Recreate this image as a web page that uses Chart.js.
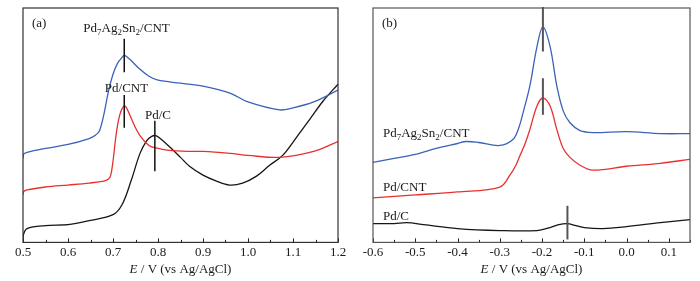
<!DOCTYPE html>
<html>
<head>
<meta charset="utf-8">
<script src="https://cdn.jsdelivr.net/npm/chart.js@4.4.0/dist/chart.umd.min.js"></script>
<style>
html, body { margin: 0; padding: 0; background: #fff; }
#wrap { position: relative; width: 700px; height: 281px; }
.box { position: absolute; top: 0; width: 350px; height: 281px; }
</style>
</head>
<body>
<div id="wrap">
  <div class="box" style="left:0"><canvas id="grafA"></canvas></div>
  <div class="box" style="left:350px"><canvas id="grafB"></canvas></div>
</div>
<script>
//Datos panel (a)
const xPdAgSnA = [0.5,0.501,0.509,0.55,0.6,0.647,0.66,0.67,0.68,0.69,0.70,0.71,0.72,0.725,0.73,0.74,0.76,0.78,0.80,0.85,0.9,0.96,1.0,1.07,1.1,1.146,1.2];
const yPdAgSnA = [85,89,91,95,99,105,108,113,130,153,170,181,187,189,188,184,175,168,164,161,158,151,142,134,136,142,154];

const xPdCntA = [0.5,0.501,0.509,0.55,0.6,0.647,0.68,0.69,0.695,0.70,0.705,0.71,0.715,0.72,0.725,0.73,0.74,0.75,0.76,0.78,0.80,0.825,0.87,0.9,0.96,1.0,1.07,1.146,1.2];
const yPdCntA = [48,51,53,56,58,60,62,64,68,82,102,118,129,135,138,136,126,116,108,98,95,93,92,92,90,88,86,92,102];

const xPdCA = [0.5,0.501,0.509,0.55,0.6,0.647,0.7,0.72,0.74,0.76,0.775,0.785,0.795,0.805,0.825,0.85,0.87,0.9,0.93,0.959,0.988,1.019,1.048,1.077,1.109,1.138,1.167,1.2];
const yPdCA = [0,8,14,17,18,22,28,38,62,90,103,107,108,105,97,86,77,68,62,58,60,67,78,88,107,125,143,160];

//Datos panel (b)
const xPdAgSnB = [-0.6,-0.55,-0.5,-0.45,-0.4,-0.38,-0.35,-0.3,-0.269,-0.255,-0.245,-0.229,-0.212,-0.198,-0.181,-0.165,-0.15,-0.134,-0.11,-0.08,0.0,0.08,0.15];
const yPdAgSnB = [81,85,89,95,100,102,101,98,104,116,131,158,198,218,198,158,133,121,113,111,112,110,110];

const xPdCntB = [-0.6,-0.5,-0.4,-0.3,-0.276,-0.262,-0.252,-0.24,-0.229,-0.212,-0.198,-0.181,-0.165,-0.15,-0.134,-0.11,-0.08,0.0,0.08,0.15];
const yPdCntB = [45,48,51,56,68,78,88,100,114,138,146,138,114,95,86,78,73,77,80,84];

const xPdCB = [-0.6,-0.55,-0.52,-0.48,-0.4,-0.3,-0.212,-0.181,-0.16,-0.141,-0.12,-0.1,-0.056,0.0,0.08,0.15];
const yPdCB = [19,19,20,18,14,12,12,15,18,19,17,15,14,16,20,23];

//Marcas de pico: [E, y inicio, y fin]
const marcasA = [[0.725,172,206],[0.725,116,149],[0.793,72,123]];
const marcasB = [[-0.198,193,238],[-0.198,129,166],[-0.14,3,37]];

const nombreAgSn = [['Pd'],['7',1],['Ag'],['2',1],['Sn'],['2',1],['/CNT']];
const nombreCnt = [['Pd/CNT']];
const nombreC = [['Pd/C']];

const tituloX = ['E', ' / V (vs Ag/AgCl)'];

const serif = '"Liberation Serif", "DejaVu Serif", serif';
const azul = '#3b62b8', rojo = '#e8302e', negro = '#161616';

function puntos(xs, ys) {
  return xs.map((x, i) => ({ x: x, y: ys[i] }));
}

function serie(xs, ys, color) {
  return {
    data: puntos(xs, ys),
    borderColor: color,
    borderWidth: 1.3,
    pointRadius: 0,
    fill: false,
    tension: 0.35
  };
}

function textoRico(ctx, partes, x, y, align) {
  const fNormal = '13px ' + serif, fSub = '9px ' + serif;
  let ancho = 0;
  partes.forEach(p => { ctx.font = p[1] ? fSub : fNormal; ancho += ctx.measureText(p[0]).width; });
  let cx = align === 'center' ? x - ancho / 2 : x;
  ctx.textAlign = 'left';
  ctx.textBaseline = 'alphabetic';
  partes.forEach(p => {
    ctx.font = p[1] ? fSub : fNormal;
    ctx.fillText(p[0], cx, p[1] ? y + 3 : y);
    cx += ctx.measureText(p[0]).width;
  });
}

const decorado = {
  id: 'decorado',
  afterDraw(chart, args, opts) {
    const ctx = chart.ctx, a = chart.chartArea;
    const sx = chart.scales.x, sy = chart.scales.y;
    ctx.save();
    //ticks hacia dentro
    ctx.strokeStyle = '#222';
    ctx.lineWidth = 1;
    sx.ticks.forEach(t => {
      const px = Math.round(sx.getPixelForValue(t.value)) + 0.5;
      const mayor = Math.abs(Math.round(t.value * 100)) % 10 === 0;
      ctx.beginPath();
      ctx.moveTo(px, a.bottom);
      ctx.lineTo(px, a.bottom - (mayor ? 4 : 2.5));
      ctx.stroke();
    });
    //marco
    ctx.strokeStyle = opts.marco;
    ctx.lineWidth = 1.2;
    ctx.strokeRect(a.left, a.top, a.right - a.left, a.bottom - a.top);
    //marcas de pico
    ctx.strokeStyle = opts.colorMarca;
    ctx.lineWidth = opts.anchoMarca;
    opts.marcas.forEach(m => {
      const px = sx.getPixelForValue(m[0]);
      ctx.beginPath();
      ctx.moveTo(px, sy.getPixelForValue(m[1]));
      ctx.lineTo(px, sy.getPixelForValue(m[2]));
      ctx.stroke();
    });
    //etiquetas
    ctx.fillStyle = '#1a1a1a';
    opts.etiquetas.forEach(e => {
      const px = e.enX ? sx.getPixelForValue(e.enX) : a.left + e.dx;
      textoRico(ctx, e.texto, px, sy.getPixelForValue(e.y), e.enX ? 'center' : 'left');
    });
    //titulo eje x
    ctx.font = 'italic 13px ' + serif;
    const w1 = ctx.measureText(tituloX[0]).width;
    ctx.font = '13px ' + serif;
    const w2 = ctx.measureText(tituloX[1]).width;
    let tx = (a.left + a.right) / 2 - (w1 + w2) / 2;
    ctx.textAlign = 'left';
    ctx.textBaseline = 'alphabetic';
    ctx.font = 'italic 13px ' + serif;
    ctx.fillText(tituloX[0], tx, 273);
    ctx.font = '13px ' + serif;
    ctx.fillText(tituloX[1], tx + w1, 273);
    ctx.restore();
  }
};

function opciones(min, max, padDer, deco) {
  return {
    responsive: true,
    maintainAspectRatio: false,
    animation: false,
    layout: { padding: { left: 23, right: padDer, top: 8, bottom: 19 } },
    plugins: { legend: { display: false }, tooltip: { enabled: false }, decorado: deco },
    scales: {
      x: {
        type: 'linear',
        min: min,
        max: max,
        grid: { display: false, drawTicks: false },
        border: { display: false },
        ticks: {
          stepSize: 0.05,
          autoSkip: false,
          maxRotation: 0,
          padding: 2,
          color: '#1a1a1a',
          font: { family: serif, size: 13 },
          callback: v => Math.abs(Math.round(v * 100)) % 10 === 0 ? v.toFixed(1) : ''
        }
      },
      y: { display: false, min: 0, max: 237 }
    }
  };
}

//GRAFICA (a)
const grafA = new Chart(document.getElementById('grafA'), {
  type: 'line',
  data: { datasets: [serie(xPdAgSnA, yPdAgSnA, azul), serie(xPdCntA, yPdCntA, rojo), serie(xPdCA, yPdCA, negro)] },
  options: opciones(0.5, 1.2, 12, {
    marco: '#333', colorMarca: '#111', anchoMarca: 1.5, marcas: marcasA,
    etiquetas: [
      { texto: [['(a)']], dx: 9, y: 218 },
      { texto: nombreAgSn, enX: 0.73, y: 213 },
      { texto: nombreCnt, enX: 0.73, y: 152 },
      { texto: nombreC, enX: 0.8, y: 125 }
    ]
  }),
  plugins: [decorado]
});

//GRAFICA (b)
const grafB = new Chart(document.getElementById('grafB'), {
  type: 'line',
  data: { datasets: [serie(xPdAgSnB, yPdAgSnB, azul), serie(xPdCntB, yPdCntB, rojo), serie(xPdCB, yPdCB, negro)] },
  options: opciones(-0.6, 0.15, 10, {
    marco: '#555', colorMarca: '#555', anchoMarca: 2, marcas: marcasB,
    etiquetas: [
      { texto: [['(b)']], dx: 9, y: 218 },
      { texto: nombreAgSn, dx: 10, y: 107 },
      { texto: nombreCnt, dx: 10, y: 52 },
      { texto: nombreC, dx: 10, y: 23 }
    ]
  }),
  plugins: [decorado]
});
</script>
</body>
</html>
